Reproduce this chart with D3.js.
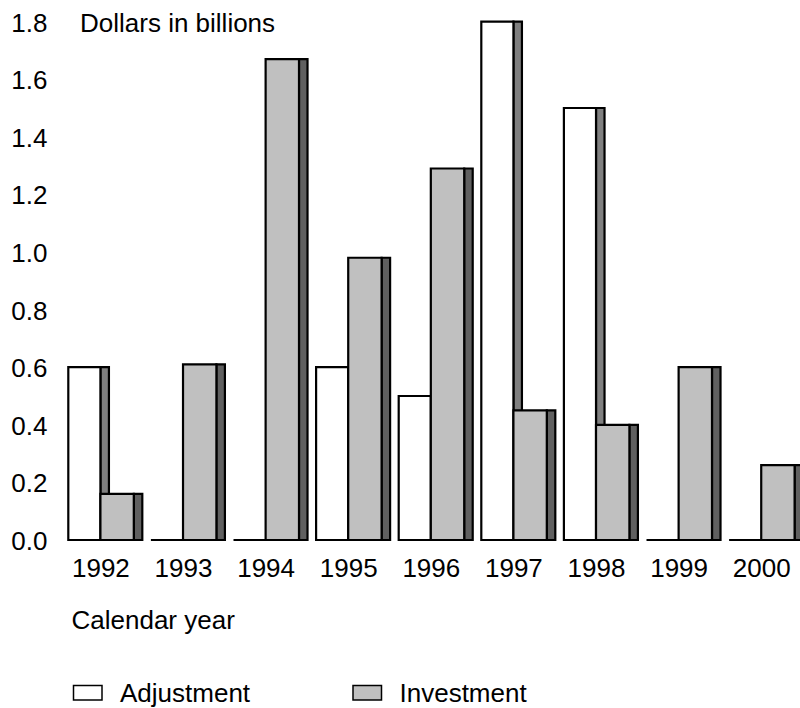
<!DOCTYPE html>
<html>
<head>
<meta charset="utf-8">
<script src="https://cdn.jsdelivr.net/npm/d3@7"></script>
<style>
  html, body { margin: 0; padding: 0; background: #fff; }
  svg { display: block; }
  text { font-family: "Liberation Sans", Arial, sans-serif; fill: #000; }
</style>
</head>
<body>
<svg id="chart" width="800" height="708"></svg>
<script>
// ---- data ----
const years = ["1992", "1993", "1994", "1995", "1996", "1997", "1998", "1999", "2000"];
const adjustment = [0.6, 0, 0, 0.6, 0.5, 1.8, 1.5, 0, 0];
const investment = [0.16, 0.61, 1.67, 0.98, 1.29, 0.45, 0.40, 0.60, 0.26];
const yTicks = [0, 0.2, 0.4, 0.6, 0.8, 1.0, 1.2, 1.4, 1.6, 1.8];
const seriesNames = ["Adjustment", "Investment"];
const yTitle = "Dollars in billions";
const xTitle = "Calendar year";

// ---- layout ----
const svg = d3.select("#chart");
const x0 = 68.3, step = 82.6, padIn = 0.104;
const x = d3.scaleBand()
  .domain(years)
  .range([x0, x0 + step * (years.length - padIn)])
  .paddingInner(padIn)
  .paddingOuter(0);
const y = d3.scaleLinear().domain([0, 1.8]).range([540, 21.6]);

const bw = x.bandwidth();
const adjW = bw * 0.434, sideW = bw * 0.115, invW = bw - adjW - sideW;

const colors = {
  adjFront: "#ffffff", adjSide: "#808080",
  invFront: "#c0c0c0", invSide: "#606060"
};

function rectPath(x1, y1, x2, y2) {
  return `M${x1},${y1}L${x2},${y1}L${x2},${y2}L${x1},${y2}Z`;
}

const data = years.map((yr, i) => ({ year: yr, adj: adjustment[i], inv: investment[i] }));

const g = svg.append("g");
const groups = g.selectAll("g.grp").data(data).join("g").attr("class", "grp");

const strokeAttrs = sel => sel.attr("stroke", "#000").attr("stroke-width", 2.2).attr("stroke-linejoin", "miter");

// adjustment side
groups.filter(d => d.adj > 0).append("path")
  .attr("d", d => { const l = x(d.year) + adjW; return rectPath(l, y(d.adj), l + sideW, y(0)); })
  .attr("fill", colors.adjSide).call(strokeAttrs);
// adjustment front
groups.append("path")
  .attr("d", d => { const l = x(d.year); return rectPath(l, y(d.adj), l + adjW, y(0)); })
  .attr("fill", colors.adjFront).call(strokeAttrs);
// investment side
groups.append("path")
  .attr("d", d => { const l = x(d.year) + adjW + invW; return rectPath(l, y(d.inv), l + sideW, y(0)); })
  .attr("fill", colors.invSide).call(strokeAttrs);
// investment front
groups.append("path")
  .attr("d", d => { const l = x(d.year) + adjW; return rectPath(l, y(d.inv), l + invW, y(0)); })
  .attr("fill", colors.invFront).call(strokeAttrs);

// ---- y tick labels ----
const fs = 26;
svg.append("g").selectAll("text").data(yTicks).join("text")
  .attr("x", 47.5)
  .attr("y", d => y(d) + 10)
  .attr("text-anchor", "end")
  .attr("font-size", fs)
  .text(d => d3.format(".1f")(d));

svg.append("text")
  .attr("x", 80).attr("y", y(1.8) + 10)
  .attr("font-size", fs)
  .text(yTitle);

// ---- x labels ----
svg.append("g").selectAll("text").data(years).join("text")
  .attr("x", d => x(d) + adjW + 0.5)
  .attr("y", 577)
  .attr("text-anchor", "middle")
  .attr("font-size", fs)
  .text(d => d);

svg.append("text")
  .attr("x", 71.5).attr("y", 629)
  .attr("font-size", fs)
  .text(xTitle);

// ---- legend ----
const legendX = [73.5, 353];
const legendFill = [colors.adjFront, colors.invFront];
const lg = svg.append("g").selectAll("g").data(seriesNames).join("g");
lg.append("rect")
  .attr("x", (d, i) => legendX[i]).attr("y", 685.5)
  .attr("width", 28.5).attr("height", 14.5)
  .attr("fill", (d, i) => legendFill[i])
  .attr("stroke", "#000").attr("stroke-width", 1.5);
lg.append("text")
  .attr("x", (d, i) => legendX[i] + 46.5)
  .attr("y", 702)
  .attr("font-size", fs)
  .text(d => d);
</script>
</body>
</html>
